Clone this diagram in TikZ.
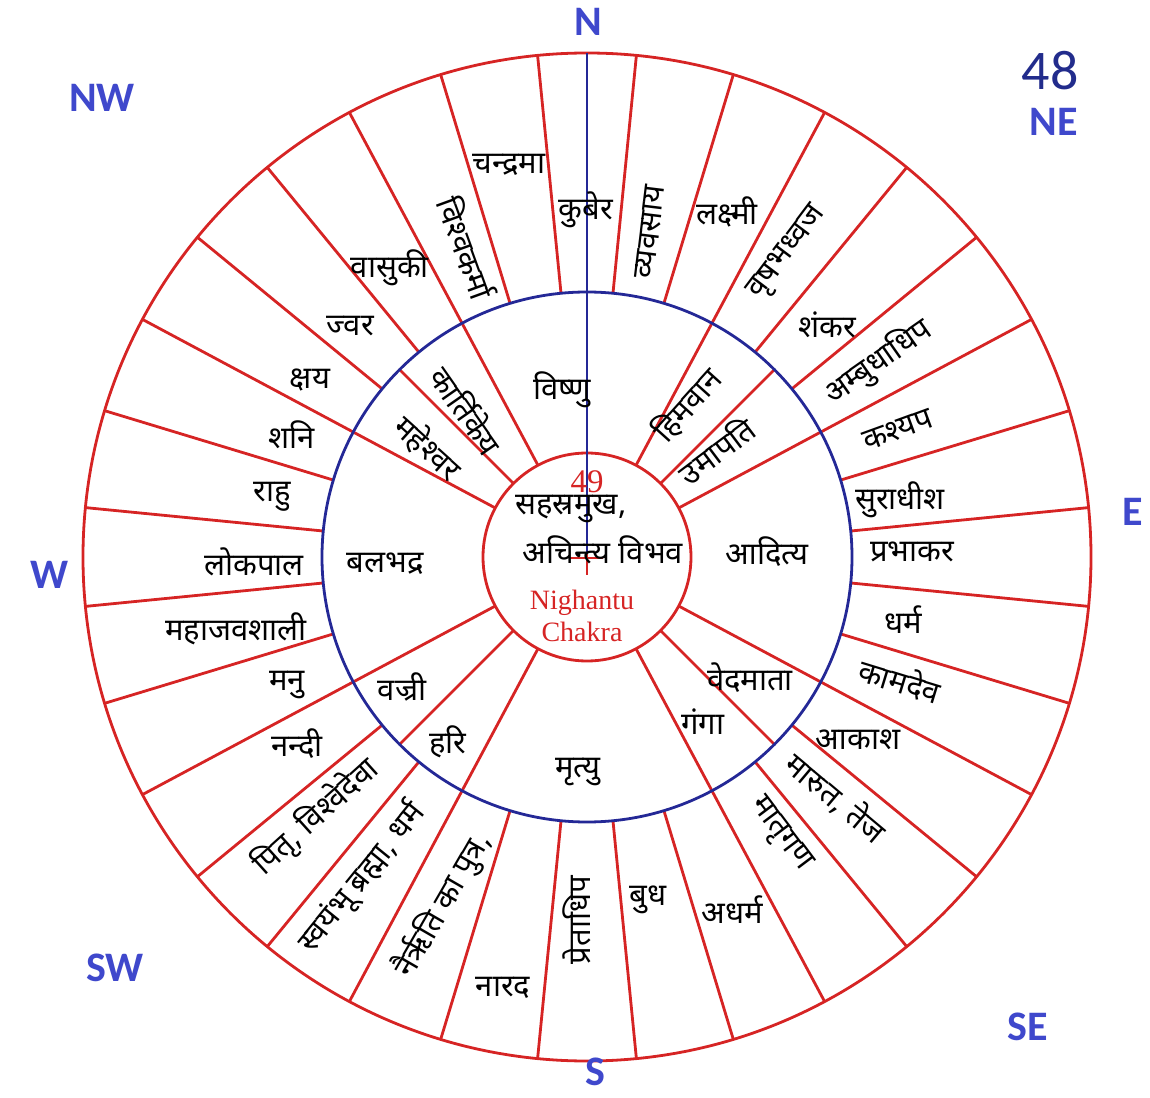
\documentclass[tikz,border=0pt]{standalone}
\usepackage{fontspec}
\newfontfamily\devafont[Script=Devanagari]{Noto Sans}
\newfontfamily\dirfont{Carlito}
\newfontfamily\chakrafont{Liberation Serif}
\definecolor{chakrared}{RGB}{214,36,36}
\definecolor{ringblue}{RGB}{36,40,150}
\definecolor{dirblue}{RGB}{63,72,204}
\definecolor{pagenavy}{RGB}{34,44,140}
\usetikzlibrary{calc}

\tikzset{
  spoke/.style={draw=chakrared, line width=2.8pt},
  midring/.style={draw=ringblue, line width=2.8pt},
  northaxis/.style={draw=ringblue, line width=2pt},
  lbl/.style={font=\devafont\fontsize{31}{34}\selectfont, inner sep=0pt},
  dirlbl/.style={font=\dirfont\bfseries\fontsize{42}{46}\selectfont, text=dirblue, inner sep=0pt},
  chakralbl/.style={font=\chakrafont\fontsize{28}{30}\selectfont, text=chakrared, inner sep=0pt}
}

\begin{document}
\begin{tikzpicture}[x=1pt, y=1pt]
  \useasboundingbox (-587,-540) rectangle (563,557);

  % spokes of the outer ring and of the middle ring
  \foreach \k in {0,...,31}
    \draw[spoke] ({5.625+11.25*\k}:265) -- ({5.625+11.25*\k}:504);
  \foreach \a in {28.125,45,61.875,118.125,135,151.875,208.125,225,241.875,298.125,315,331.875}
    \draw[spoke] (\a:104) -- (\a:265);
  \draw[spoke] (0,0) circle (504);
  \draw[spoke] (0,0) circle (104);
  \draw[midring] (0,0) circle (265);

  % north axis with the centre mark
  \draw[northaxis] (90:504) -- (0,0);
  \draw[spoke, line width=2pt] (-17,-1) -- (16,-1);
  \draw[spoke, line width=2pt] (0,3) -- (0,-18);

  % outer ring
  \node[lbl] (kubera) at (-1,347) {कुबेर};
  \node[lbl, rotate=83] (vyavasaya) at (63,325) {व्यवसाय};
  \node[lbl] (lakshmi) at (140,345) {लक्ष्मी};
  \node[lbl, rotate=53] (vrishabh) at (201,304) {वृषभध्वज};
  \node[lbl] (shankar) at (240,232) {शंकर};
  \node[lbl, rotate=35] (ambudh) at (291,195) {अम्बुधाधिप};
  \node[lbl, rotate=20] (kashyap) at (311,127) {कश्यप};
  \node[lbl] (suradhish) at (313,57) {सुराधीश};
  \node[lbl] (prabhakar) at (325,5) {प्रभाकर};
  \node[lbl] (dharma) at (316,-63) {धर्म};
  \node[lbl, rotate=-17] (kamadev) at (313,-123) {कामदेव};
  \node[lbl] (akash) at (271,-183) {आकाश};
  \node[lbl, rotate=-40] (marut) at (249,-241) {मारुत, तेज};
  \node[lbl, rotate=-53] (matrigan) at (193,-278) {मातृगण};
  \node[lbl] (adharma) at (145,-353) {अधर्म};
  \node[lbl] (budh) at (61,-343) {बुध};
  \node[lbl, rotate=90] (pretadhip) at (-10,-363) {प्रेताधिप};
  \node[lbl] (narad) at (-84,-431) {नारद};
  \node[lbl, rotate=60] (nairriti) at (-144,-348) {नैर्ऋति का पुत्र,};
  \node[lbl, rotate=51] (svayambhu) at (-225,-321) {स्वयंभू ब्रह्मा, धर्म};
  \node[lbl, rotate=42] (pitri) at (-271,-260) {पितृ, विश्वेदेवा};
  \node[lbl] (nandi) at (-290,-187) {नन्दी};
  \node[lbl] (manu) at (-300,-128) {मनु};
  \node[lbl] (mahajav) at (-351,-72) {महाजवशाली};
  \node[lbl] (lokpal) at (-333,-5) {लोकपाल};
  \node[lbl] (rahu) at (-315,60) {राहु};
  \node[lbl] (shani) at (-295,122) {शनि};
  \node[lbl] (kshaya) at (-277,177) {क्षय};
  \node[lbl] (jvara) at (-237,231) {ज्वर};
  \node[lbl] (vasuki) at (-197,289) {वासुकी};
  \node[lbl, rotate=-70] (vishvakarma) at (-120,309) {विश्वकर्मा};
  \node[lbl] (chandrama) at (-78,392) {चन्द्रमा};

  % middle ring
  \node[lbl] (vishnu) at (-25,167) {विष्णु};
  \node[lbl, rotate=48] (himvan) at (100,152) {हिमवान};
  \node[lbl, rotate=37] (umapati) at (129,107) {उमापति};
  \node[lbl] (aditya) at (180,5) {आदित्य};
  \node[lbl] (vedmata) at (163,-121) {वेदमाता};
  \node[lbl] (ganga) at (116,-165) {गंगा};
  \node[lbl] (mrityu) at (-9,-215) {मृत्यु};
  \node[lbl] (hari) at (-139,-185) {हरि};
  \node[lbl] (vajri) at (-185,-130) {वज्री};
  \node[lbl] (balbhadra) at (-202,-7) {बलभद्र};
  \node[lbl, rotate=-42] (maheshvar) at (-159,109) {महेश्वर};
  \node[lbl, rotate=-55] (kartikeya) at (-120,147) {कार्तिकेय};

  % centre
  \node[chakralbl, font=\chakrafont\fontsize{33}{35}\selectfont] (num49) at (0,75) {49};
  \node[lbl] (sahasra) at (-16,48) {सहस्रमुख,};
  \node[lbl] (achintya) at (16,7) {अचिन्त्य विभव};
  \node[chakralbl] (nighantu) at (-5,-46) {Nighantu};
  \node[chakralbl] (chakra) at (-5,-75) {Chakra};

  % directions
  \node[dirlbl] (north) at (1,535) {N};
  \node[dirlbl] (south) at (8,-515) {S};
  \node[dirlbl] (east) at (546,45) {E};
  \node[dirlbl] (west) at (-537,-18) {W};
  \node[dirlbl] (northwest) at (-485,459) {NW};
  \node[dirlbl] (northeast) at (467,435) {NE};
  \node[dirlbl] (southwest) at (-472,-411) {SW};
  \node[dirlbl] (southeast) at (441,-470) {SE};
  \node[font=\dirfont\fontsize{56}{60}\selectfont, text=pagenavy, inner sep=0pt] (page48) at (463,486) {48};
\end{tikzpicture}
\end{document}
